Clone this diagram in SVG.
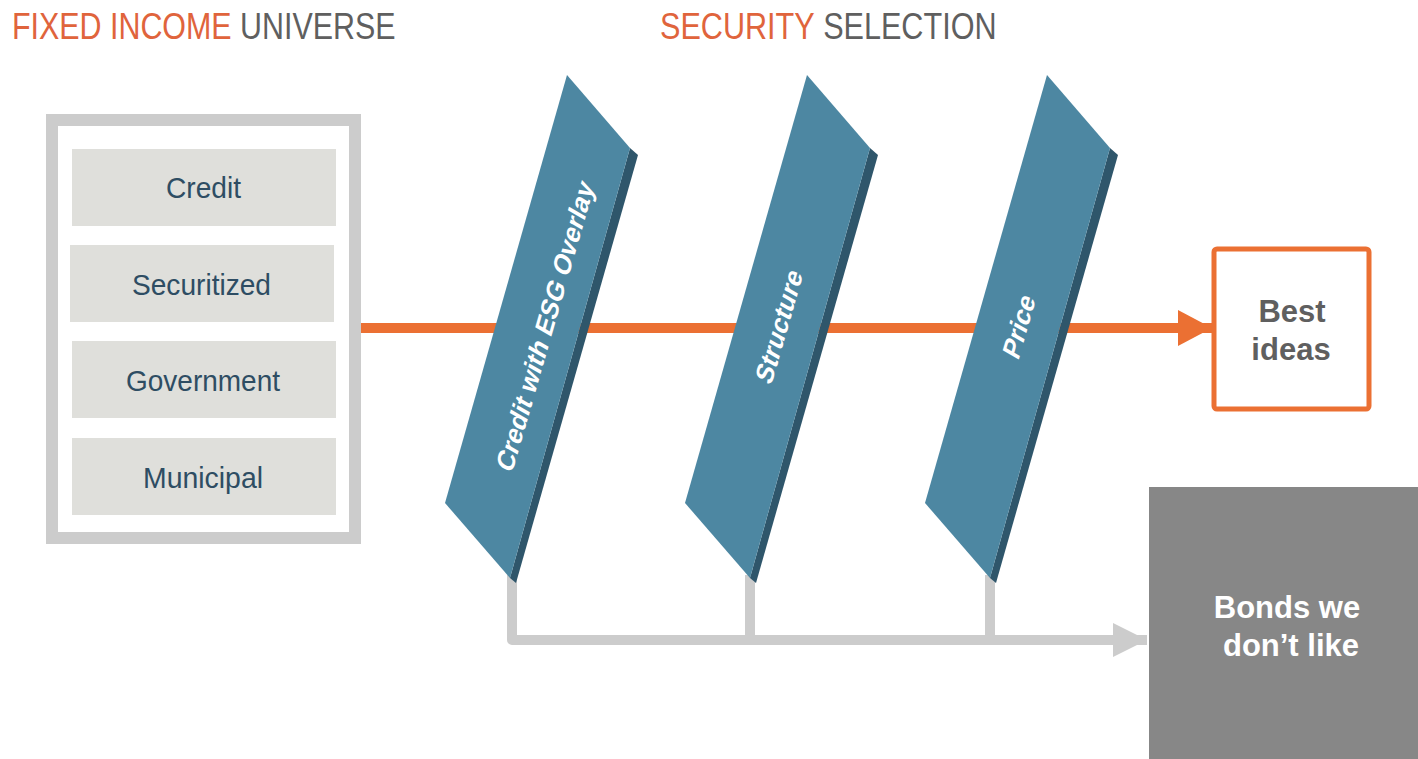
<svg xmlns="http://www.w3.org/2000/svg" width="1418" height="759" viewBox="0 0 1418 759">
  <style>
    .title { font-family: "Liberation Sans", Arial, sans-serif; font-size: 37px; }
    .orange { fill: #e0643c; }
    .grey { fill: #5f5f5f; }
    .cat-box { fill: #dfdfdb; }
    .cat-text { font-family: "Liberation Sans", Arial, sans-serif; font-size: 30px; fill: #2e4d63; }
    .face { fill: #4d87a2; }
    .side { fill: #2f566b; }
    .panel-text { font-family: "Liberation Sans", Arial, sans-serif; font-weight: bold; font-size: 26px; fill: #ffffff; text-anchor: middle; }
    .out-text { font-family: "Liberation Sans", Arial, sans-serif; font-weight: bold; font-size: 31px; text-anchor: middle; }
  </style>
  <defs>
    <marker id="arrow-orange" markerUnits="userSpaceOnUse" markerWidth="36" markerHeight="38" refX="34" refY="18" orient="auto">
      <path d="M0,0 L34,18 L0,36 Z" fill="#eb7033"/>
    </marker>
    <marker id="arrow-grey" markerUnits="userSpaceOnUse" markerWidth="36" markerHeight="38" refX="34" refY="18" orient="auto">
      <path d="M0,1 L34,18 L0,35 Z" fill="#cccccc"/>
    </marker>
  </defs>

  <rect width="1418" height="759" fill="#ffffff"/>

  <!-- headings, horizontally condensed -->
  <text class="title" transform="translate(12,39) scale(0.822,1)"><tspan class="orange">FIXED INCOME</tspan><tspan class="grey"> UNIVERSE</tspan></text>
  <text class="title" transform="translate(660,39) scale(0.827,1)"><tspan class="orange">SECURITY</tspan><tspan class="grey"> SELECTION</tspan></text>

  <!-- connectors -->
  <g id="connectors">
    <line x1="361" y1="328" x2="1212" y2="328" stroke="#eb7033" stroke-width="10" marker-end="url(#arrow-orange)"/>
    <path d="M512,575 V640 H1147" fill="none" stroke="#cccccc" stroke-width="10" stroke-linejoin="round" marker-end="url(#arrow-grey)"/>
    <line x1="750" y1="575" x2="750" y2="640" stroke="#cccccc" stroke-width="10"/>
    <line x1="990" y1="575" x2="990" y2="640" stroke="#cccccc" stroke-width="10"/>
  </g>

  <!-- fixed income universe -->
  <g id="universe">
    <rect x="52" y="120" width="303" height="418" fill="#ffffff" stroke="#cccccc" stroke-width="12"/>
    <g id="credit">
      <rect class="cat-box" x="72" y="149" width="264" height="77"/>
      <text class="cat-text" x="166" y="198" textLength="75" lengthAdjust="spacingAndGlyphs">Credit</text>
    </g>
    <g id="securitized">
      <rect class="cat-box" x="70" y="245" width="264" height="77"/>
      <text class="cat-text" x="132" y="295" textLength="139" lengthAdjust="spacingAndGlyphs">Securitized</text>
    </g>
    <g id="government">
      <rect class="cat-box" x="72" y="341" width="264" height="77"/>
      <text class="cat-text" x="126" y="391" textLength="154" lengthAdjust="spacingAndGlyphs">Government</text>
    </g>
    <g id="municipal">
      <rect class="cat-box" x="72" y="438" width="264" height="77"/>
      <text class="cat-text" x="143" y="488" textLength="120" lengthAdjust="spacingAndGlyphs">Municipal</text>
    </g>
  </g>

  <!-- selection filters -->
  <g id="filter-credit-esg">
    <polygon class="side" points="630,148 638,155 516,583 510,578"/>
    <polygon class="face" points="567,75 630,148 510,578 445,503"/>
    <text class="panel-text" transform="translate(545,326) rotate(-74) skewX(-14)" y="9">Credit with ESG Overlay</text>
  </g>
  <g id="filter-structure">
    <polygon class="side" points="870,148 878,155 756,583 750,578"/>
    <polygon class="face" points="807,75 870,148 750,578 685,503"/>
    <text class="panel-text" transform="translate(779,326) rotate(-74) skewX(-14)" y="9">Structure</text>
  </g>
  <g id="filter-price">
    <polygon class="side" points="1110,148 1118,155 996,583 990,578"/>
    <polygon class="face" points="1047,75 1110,148 990,578 925,503"/>
    <text class="panel-text" transform="translate(1019,326) rotate(-74) skewX(-14)" y="9">Price</text>
  </g>

  <!-- outcomes -->
  <g id="best-ideas">
    <rect x="1214" y="249" width="155" height="160" rx="3" fill="#ffffff" stroke="#eb7033" stroke-width="5"/>
    <text class="out-text" fill="#5f5f5f" x="1292" y="322">Best</text>
    <text class="out-text" fill="#5f5f5f" x="1291" y="360">ideas</text>
  </g>
  <g id="bonds-we-dont-like">
    <rect x="1149" y="487" width="269" height="272" fill="#878787"/>
    <text class="out-text" fill="#ffffff" x="1287" y="618">Bonds we</text>
    <text class="out-text" fill="#ffffff" x="1291" y="656">don’t like</text>
  </g>
</svg>
